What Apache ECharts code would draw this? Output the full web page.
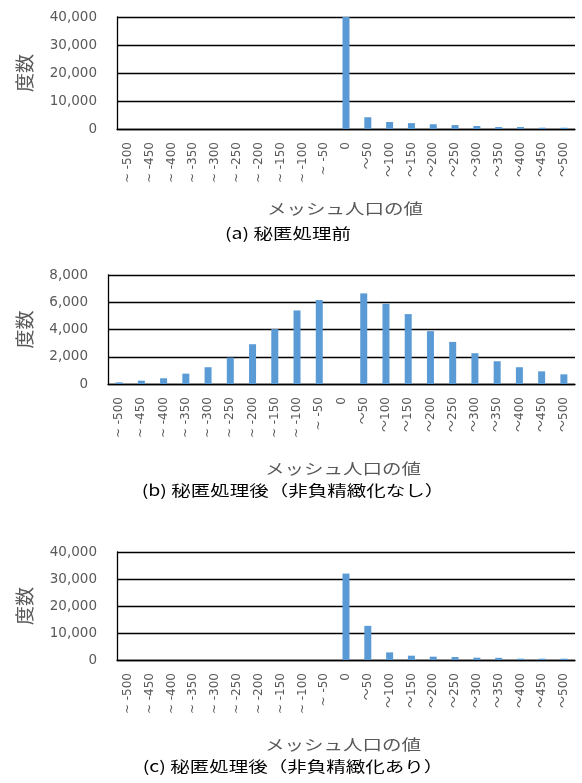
<!DOCTYPE html>
<html>
<head>
<meta charset="utf-8">
<script src="https://cdn.jsdelivr.net/npm/echarts@6/dist/echarts.min.js"></script>
<style>
  html, body { margin: 0; padding: 0; background: #fff; }
  #chart { width: 582px; height: 783px; }
</style>
</head>
<body>
<div id="chart"></div>
<script>
// Histogram bins of mesh population values
const categories = [
  '~ -500', '~ -450', '~ -400', '~ -350', '~ -300', '~ -250', '~ -200', '~ -150', '~ -100', '~ -50',
  '0',
  '〜50', '〜100', '〜150', '〜200', '〜250', '〜300', '〜350', '〜400', '〜450', '〜500'
];

// (a) before disclosure control
const countsBefore = [0, 0, 0, 0, 0, 0, 0, 0, 0, 0,
  40000, 4200, 2500, 2100, 1700, 1400, 1070, 700, 700, 470, 450];

// (b) after disclosure control, without non-negative refinement
const countsNoRefine = [120, 245, 420, 760, 1230, 1940, 2920, 4030, 5400, 6160,
  0, 6650, 5890, 5130, 3880, 3090, 2260, 1670, 1230, 930, 710];

// (c) after disclosure control, with non-negative refinement
const countsRefined = [0, 0, 0, 0, 0, 0, 0, 0, 0, 0,
  32000, 12640, 2820, 1600, 1230, 1100, 860, 800, 490, 490, 490];

const yMaxes = [40000, 8000, 40000];
const yIntervals = [10000, 2000, 10000];

const yName = '度数';
const xName = 'メッシュ人口の値';
const captions = [
  '(a) 秘匿処理前',
  '(b) 秘匿処理後（非負精緻化なし）',
  '(c) 秘匿処理後（非負精緻化あり）'
];

const seriesData = [countsBefore, countsNoRefine, countsRefined];

// panel layout (pixels)
const grids = [
  { left: 117, top: 17, width: 458, height: 112 },
  { left: 108, top: 275, width: 467, height: 109 },
  { left: 117, top: 552, width: 458, height: 108 }
];
const yNameGaps = [83, 74, 83];
const xNamePos = [[345, 208], [343, 468], [343, 744]];
const captionPos = [[288, 233.5], [293, 490.5], [293, 766.5]];

const GRAY = '#595959';
const LINE = '#000';
const NUM_FONT = 'DejaVu Sans, Noto Sans CJK JP, sans-serif';
const JP_FONT = 'Noto Sans CJK JP, sans-serif';

const chart = echarts.init(document.getElementById('chart'), null, { renderer: 'canvas' });

const xAxes = [], yAxes = [], series = [], graphics = [];
grids.forEach((g, i) => {
  xAxes.push({
    type: 'category',
    gridIndex: i,
    data: categories,
    boundaryGap: true,
    axisTick: { show: false },
    axisLine: { show: true, lineStyle: { color: LINE, width: 1.3 } },
    axisLabel: {
      interval: 0,
      rotate: 90,
      margin: 13,
      color: GRAY,
      fontSize: 12,
      fontFamily: NUM_FONT
    },
    splitLine: { show: false }
  });
  yAxes.push({
    type: 'value',
    gridIndex: i,
    min: 0,
    max: yMaxes[i],
    interval: yIntervals[i],
    name: yName,
    nameLocation: 'middle',
    nameRotate: 90,
    nameGap: yNameGaps[i],
    nameTextStyle: { color: GRAY, fontSize: 19, fontFamily: JP_FONT },
    axisLine: { show: true, lineStyle: { color: LINE, width: 1.3 } },
    axisTick: { show: false },
    axisLabel: {
      margin: 20,
      color: GRAY,
      fontSize: 13.5,
      fontFamily: NUM_FONT,
      formatter: v => v.toLocaleString('en-US')
    },
    splitLine: { show: true, lineStyle: { color: LINE, width: 1.3 } }
  });
  series.push({
    type: 'bar',
    xAxisIndex: i,
    yAxisIndex: i,
    data: seriesData[i],
    barWidth: 7,
    itemStyle: { color: '#5B9BD5' },
    silent: true
  });
  graphics.push({
    type: 'text',
    x: xNamePos[i][0],
    y: xNamePos[i][1],
    scaleX: 1.3,
    style: {
      text: xName,
      fill: GRAY,
      font: '15px ' + JP_FONT,
      textAlign: 'center',
      textVerticalAlign: 'middle'
    }
  });
  graphics.push({
    type: 'text',
    x: captionPos[i][0],
    y: captionPos[i][1],
    scaleX: 1.3,
    style: {
      text: captions[i],
      fill: '#000',
      font: '15px ' + JP_FONT,
      textAlign: 'center',
      textVerticalAlign: 'middle'
    }
  });
});

chart.setOption({
  animation: false,
  backgroundColor: '#fff',
  grid: grids.map(g => Object.assign({ containLabel: false }, g)),
  xAxis: xAxes,
  yAxis: yAxes,
  series: series,
  graphic: graphics
});
</script>
</body>
</html>
